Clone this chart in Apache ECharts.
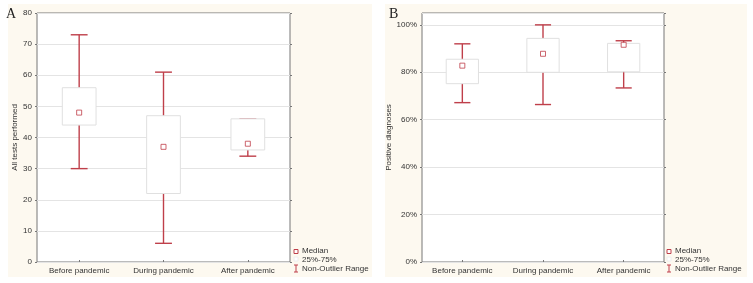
<!DOCTYPE html>
<html>
<head>
    <meta charset="utf-8">
    <title>Tests and positive diagnoses</title>
    <script src="https://cdn.jsdelivr.net/npm/echarts@6/dist/echarts.min.js"></script>
    <style>
        body { margin: 0; background: #fff; }
        #chart { width: 753px; height: 283px; }
    </style>
</head>
<body>
    <div id="chart"></div>
    <script>
        // categories and box statistics
        var categories = ['Before pandemic', 'During pandemic', 'After pandemic'];

        var testsMin = [30, 6, 34];
        var testsQ1 = [44, 22, 36];
        var testsMedian = [48, 37, 38];
        var testsQ3 = [56, 47, 46];
        var testsMax = [73, 61, 46];
        var testsTicks = [0, 10, 20, 30, 40, 50, 60, 70, 80];

        var posMin = [67.2, 66.4, 73.4];
        var posQ1 = [75.2, 80, 80.2];
        var posMedian = [82.8, 87.8, 91.6];
        var posQ3 = [85.5, 94.3, 92.2];
        var posMax = [92, 100, 93.3];
        var posTicks = [0, 20, 40, 60, 80, 100];

        var red = '#bf3f4a';
        var font = 'Liberation Sans, Arial, sans-serif';

        function boxData(mn, q1, md, q3, mx) {
            return categories.map(function (c, i) { return [i, mn[i], q1[i], md[i], q3[i], mx[i]]; });
        }
        function medianData(md) {
            return categories.map(function (c, i) { return [i, md[i]]; });
        }

        function renderBox(params, api) {
            var idx = api.value(0);
            var band = api.size([1, 0])[0];
            var boxW = band * 0.4, capW = band * 0.2;
            var pMin = api.coord([idx, api.value(1)]);
            var pQ1 = api.coord([idx, api.value(2)]);
            var pQ3 = api.coord([idx, api.value(4)]);
            var pMax = api.coord([idx, api.value(5)]);
            var x = pMin[0];
            var ls = { stroke: red, lineWidth: 1.4 };
            return {
                type: 'group',
                children: [
                    { type: 'line', silent: true, shape: { x1: x, y1: pMin[1], x2: x, y2: pMax[1] }, style: ls },
                    { type: 'line', silent: true, shape: { x1: x - capW / 2, y1: pMin[1], x2: x + capW / 2, y2: pMin[1] }, style: ls },
                    { type: 'line', silent: true, shape: { x1: x - capW / 2, y1: pMax[1], x2: x + capW / 2, y2: pMax[1] }, style: ls },
                    { type: 'rect', silent: true, shape: { x: x - boxW / 2, y: pQ3[1], width: boxW, height: pQ1[1] - pQ3[1] },
                      style: { fill: '#fff', stroke: '#e0e0e0', lineWidth: 1 } }
                ]
            };
        }

        function legend(x) {
            return [
                { type: 'rect', shape: { x: x, y: 249.5, width: 4, height: 4 }, style: { fill: '#fff', stroke: red, lineWidth: 1 } },
                { type: 'text', x: x + 8, y: 247, style: { text: 'Median', font: '8px ' + font, fill: '#333' } },
                { type: 'rect', shape: { x: x, y: 257, width: 4, height: 4 }, style: { fill: '#fff', stroke: '#eee', lineWidth: 1 } },
                { type: 'text', x: x + 8, y: 256, style: { text: '25%-75%', font: '8px ' + font, fill: '#333' } },
                { type: 'line', shape: { x1: x + 2, y1: 265, x2: x + 2, y2: 272 }, style: { stroke: red } },
                { type: 'line', shape: { x1: x, y1: 265, x2: x + 4, y2: 265 }, style: { stroke: red } },
                { type: 'line', shape: { x1: x, y1: 272, x2: x + 4, y2: 272 }, style: { stroke: red } },
                { type: 'text', x: x + 8, y: 265, style: { text: 'Non-Outlier Range', font: '8px ' + font, fill: '#333' } }
            ];
        }

        var chart = echarts.init(document.getElementById('chart'));

        var xAxisBase = {
            type: 'category',
            data: categories,
            axisLine: { show: false },
            axisTick: { show: true, inside: true, length: 2, alignWithLabel: true, lineStyle: { color: '#777' } },
            axisLabel: { fontSize: 8, fontFamily: font, color: '#333', margin: 5 },
            splitLine: { show: false }
        };
        var xAxisTop = {
            type: 'category',
            data: categories,
            position: 'top',
            axisLine: { show: false },
            axisTick: { show: true, length: 2, alignWithLabel: true, lineStyle: { color: '#777' } },
            axisLabel: { show: false },
            splitLine: { show: false }
        };
        var yAxisBase = {
            type: 'value',
            min: 0,
            nameLocation: 'middle',
            nameGap: 16,
            nameTextStyle: { fontSize: 8, fontFamily: font, color: '#333' },
            axisLine: { show: false },
            axisTick: { show: true, length: 2, lineStyle: { color: '#777' } },
            axisLabel: { fontSize: 8, fontFamily: font, color: '#333', margin: 5 },
            splitLine: { show: true, lineStyle: { color: '#e4e4e4', width: 1 } }
        };
        var yAxisRight = {
            type: 'value',
            min: 0,
            position: 'right',
            axisLine: { show: false },
            axisTick: { show: true, length: 2, lineStyle: { color: '#777' } },
            axisLabel: { show: false },
            splitLine: { show: false }
        };

        var option = {
            backgroundColor: '#fff',
            animation: false,
            graphic: [
                { type: 'rect', z: -10, shape: { x: 8, y: 4, width: 364, height: 273 }, style: { fill: '#fdf9f0' } },
                { type: 'rect', z: -10, shape: { x: 385, y: 4, width: 362, height: 273 }, style: { fill: '#fdf9f0' } },
                { type: 'text', x: 6, y: 7, style: { text: 'A', font: '14px Liberation Serif, serif', fill: '#222' } },
                { type: 'text', x: 389, y: 7, style: { text: 'B', font: '14px Liberation Serif, serif', fill: '#222' } }
            ].concat(legend(294)).concat(legend(667)),
            grid: [
                { left: 37, right: 463, top: 13, bottom: 21, show: true, backgroundColor: '#fff', borderColor: '#777', borderWidth: 1 },
                { left: 422, right: 89, top: 13, bottom: 21, show: true, backgroundColor: '#fff', borderColor: '#777', borderWidth: 1 }
            ],
            xAxis: [
                Object.assign({}, xAxisBase, { gridIndex: 0 }),
                Object.assign({}, xAxisBase, { gridIndex: 1 }),
                Object.assign({}, xAxisTop, { gridIndex: 0 }),
                Object.assign({}, xAxisTop, { gridIndex: 1 })
            ],
            yAxis: [
                Object.assign({}, yAxisBase, {
                    gridIndex: 0, name: 'All tests performed',
                    max: testsTicks[testsTicks.length - 1], interval: 10
                }),
                Object.assign({}, yAxisBase, {
                    gridIndex: 1, name: 'Positive diagnoses', nameGap: 23,
                    max: 105, interval: 20,
                    axisLabel: Object.assign({}, yAxisBase.axisLabel, { formatter: '{value}%', showMaxLabel: false })
                }),
                Object.assign({}, yAxisRight, {
                    gridIndex: 0, max: testsTicks[testsTicks.length - 1], interval: 10
                }),
                Object.assign({}, yAxisRight, {
                    gridIndex: 1, max: 105, interval: 20
                })
            ],
            series: [
                {
                    type: 'custom', xAxisIndex: 0, yAxisIndex: 0, silent: true,
                    emphasis: { disabled: true },
                    renderItem: renderBox,
                    encode: { x: 0, y: [1, 2, 3, 4, 5] },
                    data: boxData(testsMin, testsQ1, testsMedian, testsQ3, testsMax)
                },
                {
                    type: 'scatter', xAxisIndex: 0, yAxisIndex: 0, silent: true,
                    symbol: 'rect', symbolSize: 5,
                    itemStyle: { color: '#fff', borderColor: red, borderWidth: 1 },
                    data: medianData(testsMedian), z: 5
                },
                {
                    type: 'custom', xAxisIndex: 1, yAxisIndex: 1, silent: true,
                    emphasis: { disabled: true },
                    renderItem: renderBox,
                    encode: { x: 0, y: [1, 2, 3, 4, 5] },
                    data: boxData(posMin, posQ1, posMedian, posQ3, posMax)
                },
                {
                    type: 'scatter', xAxisIndex: 1, yAxisIndex: 1, silent: true,
                    symbol: 'rect', symbolSize: 5,
                    itemStyle: { color: '#fff', borderColor: red, borderWidth: 1 },
                    data: medianData(posMedian), z: 5
                }
            ]
        };
        chart.setOption(option);
    </script>
</body>
</html>
